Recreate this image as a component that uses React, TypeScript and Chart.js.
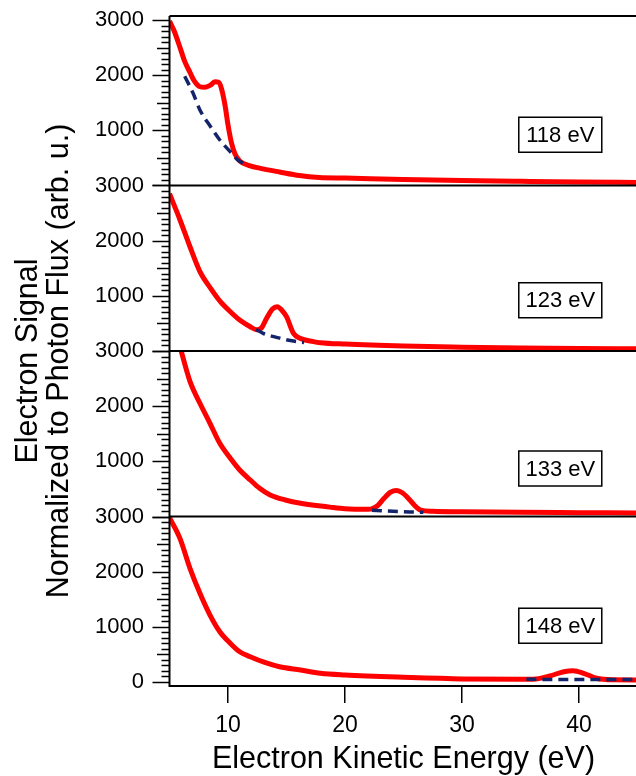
import React, { useEffect, useRef } from 'react';
import { Chart, registerables } from 'chart.js';

Chart.register(...registerables);

const FONT = '"Liberation Sans", Arial, Helvetica, sans-serif';

// ---- axis ticks / labels ----
const xTickValues = [10, 20, 30, 40];
const yMajorTicks = [0, 1000, 2000, 3000];
const yMinorStep = 100;
const panelLabels = ['118 eV', '123 eV', '133 eV', '148 eV'];
const labelAtX = 38.4;
const labelAtY = [920, 920, 870, 1020];

// ---- 118 eV ----
const e118X = [5.0, 5.4, 5.9, 6.3, 6.75, 7.1, 7.6, 8.0, 8.5, 8.9, 9.2, 9.45, 9.75, 10.0, 10.3, 10.6, 11.0, 11.9, 12.7, 14.4, 16.1, 17.8, 20, 25, 30, 35, 40, 45];
const e118Y = [2980, 2800, 2500, 2250, 2050, 1900, 1790, 1780, 1820, 1880, 1870, 1750, 1450, 1100, 770, 570, 445, 355, 315, 245, 180, 145, 135, 110, 90, 75, 62, 55];
const e118BgX = [6.3, 7.0, 7.6, 8.5, 9.3, 10.2, 10.8, 11.5];
const e118BgY = [1980, 1680, 1370, 1070, 825, 610, 470, 380];

// ---- 123 eV ----
const e123X = [5.0, 5.9, 6.75, 7.6, 8.5, 9.35, 10.2, 11.0, 11.9, 12.45, 12.9, 13.3, 13.8, 14.2, 14.6, 15.0, 15.6, 16.15, 17.3, 17.9, 20, 25, 30, 35, 40, 45];
const e123Y = [2850, 2375, 1890, 1440, 1140, 895, 712, 562, 440, 385, 430, 593, 760, 803, 740, 622, 320, 230, 170, 150, 125, 90, 70, 55, 45, 40];
const e123BgX = [12.4, 13.0, 14.0, 14.5, 15.2, 16.0, 16.5];
const e123BgY = [390, 320, 255, 230, 195, 168, 155];

// ---- 133 eV ----
const e133X = [5.0, 5.5, 6.0, 6.75, 7.6, 8.46, 9.3, 10.2, 11.0, 11.9, 12.7, 13.6, 14.9, 16.2, 18.7, 20, 22.0, 22.8, 23.3, 23.9, 24.4, 24.9, 25.5, 26.0, 26.5, 27.5, 30, 35, 40, 45];
const e133Y = [3900, 3400, 3000, 2450, 2052, 1690, 1327, 1055, 843, 662, 511, 390, 299, 239, 170, 140, 130, 200, 320, 440, 470, 430, 310, 190, 115, 95, 85, 75, 70, 65];
const e133BgX = [22.3, 23.5, 24.5, 25.5, 26.7];
const e133BgY = [115, 100, 90, 82, 75];

// ---- 148 eV ----
const e148X = [5.0, 5.9, 6.75, 7.6, 8.46, 9.3, 10.2, 11.0, 11.9, 13.2, 14.4, 16.2, 17.9, 20, 25, 28.1, 30, 36.1, 37.5, 38.7, 39.5, 40.4, 41.5, 42.9, 45];
const e148Y = [2980, 2600, 2061, 1608, 1214, 912, 701, 549, 459, 350, 277, 217, 158, 127, 85, 67, 55, 49, 109, 187, 205, 158, 67, 40, 38];
const e148BgX = [35.5, 38, 40, 42, 45];
const e148BgY = [48, 47, 46, 45, 44];

const redX = [e118X, e123X, e133X, e148X];
const redY = [e118Y, e123Y, e133Y, e148Y];
const bgX = [e118BgX, e123BgX, e133BgX, e148BgX];
const bgY = [e118BgY, e123BgY, e133BgY, e148BgY];

const panelIds = ['p1', 'p2', 'p3', 'p4'];
const panelMin = [0, 0, 0, -72.5];
const panelMax = [3072.5, 3000, 3000, 3000];
const panelWeight = [169.5, 165.5, 165.5, 169.5];

const toPoints = (xs: number[], ys: number[]) => xs.map((x, i) => ({ x, y: ys[i] }));

const framePlugin = {
  id: 'framePlugin',
  afterDraw(chart: any) {
    const ctx = chart.ctx;
    const area = chart.chartArea;
    const xs = chart.scales.x;
    ctx.save();
    ctx.strokeStyle = '#000';
    // minor/major y ticks
    ctx.lineWidth = 1.5;
    panelIds.forEach((id) => {
      const s = chart.scales[id];
      for (let v = 0; v <= 3000; v += yMinorStep) {
        if (v < s.min || v > s.max) continue;
        const y = Math.round(s.getPixelForValue(v)) + 0.5;
        const len = v % 1000 === 0 ? 17 : v % 500 === 0 ? 12.5 : 8;
        ctx.beginPath();
        ctx.moveTo(area.left - len, y);
        ctx.lineTo(area.left, y);
        ctx.stroke();
      }
    });
    // frame and separators
    ctx.lineWidth = 2;
    ctx.beginPath();
    ctx.moveTo(area.left, area.top);
    ctx.lineTo(area.right, area.top);
    ctx.moveTo(area.left, area.top);
    ctx.lineTo(area.left, area.bottom);
    ctx.lineTo(area.right, area.bottom);
    ctx.lineTo(area.right, area.top);
    panelIds.slice(0, 3).forEach((id) => {
      const s = chart.scales[id];
      ctx.moveTo(area.left, s.bottom);
      ctx.lineTo(area.right, s.bottom);
    });
    ctx.stroke();
    // panel labels
    ctx.font = `22px ${FONT}`;
    ctx.textAlign = 'center';
    ctx.textBaseline = 'middle';
    ctx.lineWidth = 1.5;
    panelIds.forEach((id, i) => {
      const s = chart.scales[id];
      const cx = xs.getPixelForValue(labelAtX);
      const cy = s.getPixelForValue(labelAtY[i]);
      const w = 83, h = 35;
      ctx.fillStyle = '#fff';
      ctx.fillRect(cx - w / 2, cy - h / 2, w, h);
      ctx.strokeRect(cx - w / 2, cy - h / 2, w, h);
      ctx.fillStyle = '#000';
      ctx.fillText(panelLabels[i], cx, cy + 1);
    });
    // y title
    ctx.font = `30.5px ${FONT}`;
    ctx.textAlign = 'center';
    ctx.textBaseline = 'alphabetic';
    const cy = (area.top + area.bottom) / 2 + 10;
    [['Electron Signal', 37], ['Normalized to Photon Flux (arb. u.)', 67.5]].forEach(([t, bx]) => {
      ctx.save();
      ctx.translate(bx as number, cy);
      ctx.rotate(-Math.PI / 2);
      ctx.fillText(t as string, 0, 0);
      ctx.restore();
    });
    ctx.restore();
  },
};

export default function App() {
  const ref = useRef<HTMLCanvasElement | null>(null);
  useEffect(() => {
    if (!ref.current) return;
    const datasets: any[] = [];
    panelIds.forEach((id, i) => {
      datasets.push({
        data: toPoints(bgX[i], bgY[i]),
        yAxisID: id,
        xAxisID: 'x',
        borderColor: '#14246a',
        borderWidth: 3.5,
        borderDash: [10, 6],
        pointRadius: 0,
        cubicInterpolationMode: 'monotone',
        clip: 0,
        order: 0,
      });
      datasets.push({
        data: toPoints(redX[i], redY[i]),
        yAxisID: id,
        xAxisID: 'x',
        borderColor: '#ff0000',
        borderWidth: 5,
        pointRadius: 0,
        cubicInterpolationMode: 'monotone',
        clip: 0,
        order: 1,
      });
    });
    const scales: any = {
      x: {
        type: 'linear',
        position: 'bottom',
        min: 5,
        max: 45,
        afterBuildTicks: (s: any) => {
          s.ticks = xTickValues.map((v) => ({ value: v }));
        },
        afterFit: (s: any) => {
          s.height = 90;
          s.paddingLeft = 0;
          s.paddingRight = 0;
        },
        grid: { display: true, drawOnChartArea: false, drawTicks: true, tickLength: 17, color: '#000', lineWidth: 1.5 },
        border: { display: false },
        ticks: { padding: 9, color: '#000', font: { family: FONT, size: 23 }, maxRotation: 0, autoSkip: false, callback: (v: any) => String(v) },
        title: { display: true, text: 'Electron Kinetic Energy (eV)', color: '#000', font: { family: FONT, size: 30.5, lineHeight: 1 }, padding: { top: 0, bottom: 1.3 } },
      },
    };
    panelIds.forEach((id, i) => {
      scales[id] = {
        type: 'linear',
        position: 'left',
        stack: 'panels',
        stackWeight: panelWeight[i],
        weight: 4 - i,
        min: panelMin[i],
        max: panelMax[i],
        afterBuildTicks: (s: any) => {
          s.ticks = yMajorTicks.filter((v) => i === 3 || v > 0).map((v) => ({ value: v }));
        },
        afterFit: (s: any) => {
          s.width = 169.5;
          s.paddingTop = 0;
          s.paddingBottom = 0;
        },
        grid: { display: false, drawTicks: false },
        border: { display: false },
        ticks: { padding: 25.5, color: '#000', font: { family: FONT, size: 22 }, autoSkip: false, callback: (v: any) => String(v) },
      };
    });
    const chart = new Chart(ref.current, {
      type: 'line',
      data: { datasets },
      options: {
        animation: false,
        responsive: false,
        devicePixelRatio: 1,
        layout: { padding: { top: 16, left: 0, right: 2.5, bottom: 0 } },
        plugins: { legend: { display: false }, tooltip: { enabled: false } },
        scales,
      } as any,
      plugins: [framePlugin],
    });
    return () => chart.destroy();
  }, []);
  return (
    <div style={{ position: 'fixed', left: 0, top: 0, width: 636, height: 776, overflow: 'hidden', background: '#fff' }}>
      <canvas ref={ref} width={640} height={776} style={{ display: 'block', width: 640, height: 776 }} />
    </div>
  );
}
